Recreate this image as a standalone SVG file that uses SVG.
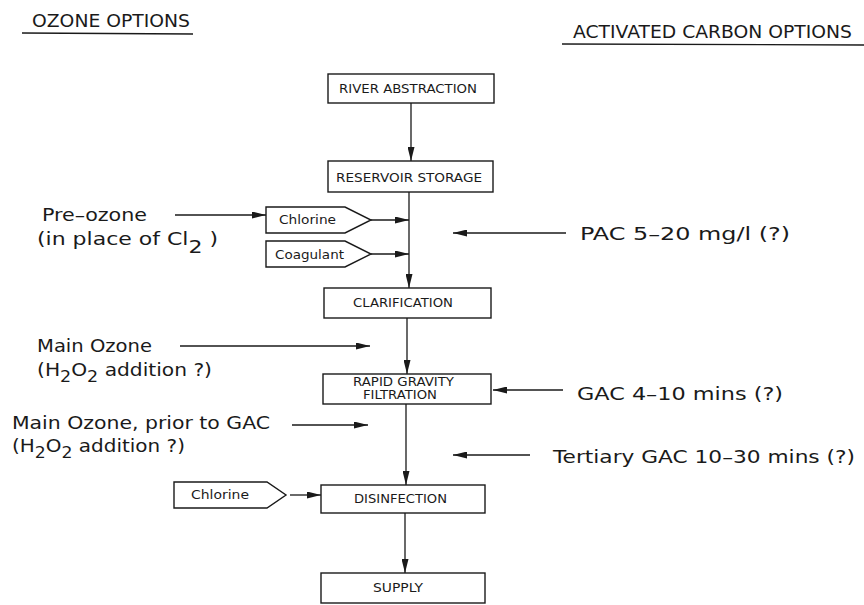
<svg xmlns="http://www.w3.org/2000/svg" width="864" height="605" viewBox="0 0 864 605">
<defs>
<style>
.bx{fill:#fff;stroke:#1a1a1a;stroke-width:1.4}
.ln{fill:none;stroke:#1a1a1a;stroke-width:1.3}
.c{stroke:#1a1a1a;stroke-width:1.3;fill:none;marker-end:url(#ah)}
text{font-family:"DejaVu Sans","Liberation Sans",sans-serif;fill:#1a1a1a}
.bt{font-size:12.5px}
.lt{font-size:18.5px}
.hd{font-size:18px}
.sm{font-size:11.5px}
</style>
<marker id="ah" markerUnits="userSpaceOnUse" markerWidth="14" markerHeight="7" refX="14" refY="3.5" orient="auto">
<path d="M0,0 L14,3.5 L0,7 Z" fill="#1a1a1a"/>
</marker>
</defs>
<rect width="864" height="605" fill="#fff"/>

<g id="headers">
<text class="hd" x="32" y="27" textLength="158" lengthAdjust="spacingAndGlyphs">OZONE OPTIONS</text>
<line class="ln" x1="22" y1="33" x2="193" y2="34"/>
<text class="hd" x="573" y="38" textLength="279" lengthAdjust="spacingAndGlyphs">ACTIVATED CARBON OPTIONS</text>
<line class="ln" x1="562" y1="44" x2="864" y2="45"/>
</g>

<g id="connectors">
<line class="c" x1="411" y1="103" x2="411" y2="161"/>
<line class="c" x1="409" y1="192" x2="409" y2="288"/>
<line class="c" x1="175" y1="215" x2="266" y2="215"/>
<line class="c" x1="371" y1="220" x2="409" y2="220"/>
<line class="c" x1="371" y1="254" x2="409" y2="254"/>
<line class="c" x1="566" y1="233" x2="453" y2="233"/>
<line class="c" x1="407" y1="318" x2="407" y2="374"/>
<line class="c" x1="180" y1="346" x2="370" y2="346"/>
<line class="c" x1="563" y1="390" x2="493" y2="390"/>
<line class="c" x1="406" y1="404" x2="406" y2="485"/>
<line class="c" x1="292" y1="425" x2="368" y2="425"/>
<line class="c" x1="530" y1="455" x2="453" y2="455"/>
<line class="c" x1="290" y1="495" x2="321" y2="495"/>
<line class="c" x1="405" y1="513" x2="405" y2="573"/>
</g>

<g id="river-abstraction">
<rect class="bx" x="328" y="74" width="166" height="29"/>
<text class="bt" x="339" y="93" textLength="138" lengthAdjust="spacingAndGlyphs">RIVER ABSTRACTION</text>
</g>
<g id="reservoir-storage">
<rect class="bx" x="328" y="161" width="165" height="31"/>
<text class="bt" x="336" y="182" textLength="146" lengthAdjust="spacingAndGlyphs">RESERVOIR STORAGE</text>
</g>
<g id="chlorine-1">
<path class="bx" d="M266,207 H345 L371,220 L345,233 H266 Z"/>
<text class="bt" x="279" y="224" textLength="57" lengthAdjust="spacingAndGlyphs">Chlorine</text>
</g>
<g id="coagulant">
<path class="bx" d="M266,241 H345 L371,254 L345,267 H266 Z"/>
<text class="bt" x="275" y="259" textLength="69" lengthAdjust="spacingAndGlyphs">Coagulant</text>
</g>
<g id="clarification">
<rect class="bx" x="324" y="288" width="167" height="30"/>
<text class="bt" x="353" y="307" textLength="100" lengthAdjust="spacingAndGlyphs">CLARIFICATION</text>
</g>
<g id="rapid-gravity-filtration">
<rect class="bx" x="323" y="374" width="168" height="30"/>
<text class="sm" x="353" y="386" textLength="101" lengthAdjust="spacingAndGlyphs">RAPID GRAVITY</text>
<text class="sm" x="363" y="399" textLength="74" lengthAdjust="spacingAndGlyphs">FILTRATION</text>
</g>
<g id="chlorine-2">
<path class="bx" d="M174,482 H267 L286,495 L267,508 H174 Z"/>
<text class="bt" x="191" y="499" textLength="58" lengthAdjust="spacingAndGlyphs">Chlorine</text>
</g>
<g id="disinfection">
<rect class="bx" x="321" y="485" width="164" height="28"/>
<text class="bt" x="354" y="503" textLength="93" lengthAdjust="spacingAndGlyphs">DISINFECTION</text>
</g>
<g id="supply">
<rect class="bx" x="321" y="573" width="164" height="30"/>
<text class="bt" x="373" y="592" textLength="50" lengthAdjust="spacingAndGlyphs">SUPPLY</text>
</g>

<g id="ozone-labels">
<text class="lt" x="42" y="221" textLength="105" lengthAdjust="spacingAndGlyphs">Pre–ozone</text>
<text class="lt" x="37" y="245" textLength="181" lengthAdjust="spacingAndGlyphs">(in place of Cl<tspan dy="8">2</tspan><tspan dy="-8"> )</tspan></text>
<text class="lt" x="37" y="352" textLength="115" lengthAdjust="spacingAndGlyphs">Main Ozone</text>
<text class="lt" x="37" y="376" textLength="175" lengthAdjust="spacingAndGlyphs">(H<tspan dy="6" font-size="16">2</tspan><tspan dy="-6">O</tspan><tspan dy="6" font-size="16">2</tspan><tspan dy="-6"> addition ?)</tspan></text>
<text class="lt" x="12" y="429" textLength="258" lengthAdjust="spacingAndGlyphs">Main Ozone, prior to GAC</text>
<text class="lt" x="12" y="452" textLength="173" lengthAdjust="spacingAndGlyphs">(H<tspan dy="6" font-size="16">2</tspan><tspan dy="-6">O</tspan><tspan dy="6" font-size="16">2</tspan><tspan dy="-6"> addition ?)</tspan></text>
</g>

<g id="carbon-labels">
<text class="lt" x="580" y="240" textLength="210" lengthAdjust="spacingAndGlyphs">PAC  5–20 mg/l (?)</text>
<text class="lt" x="577" y="400" textLength="206" lengthAdjust="spacingAndGlyphs">GAC  4–10 mins (?)</text>
<text class="lt" x="553" y="463" textLength="302" lengthAdjust="spacingAndGlyphs">Tertiary GAC  10–30 mins (?)</text>
</g>
</svg>
